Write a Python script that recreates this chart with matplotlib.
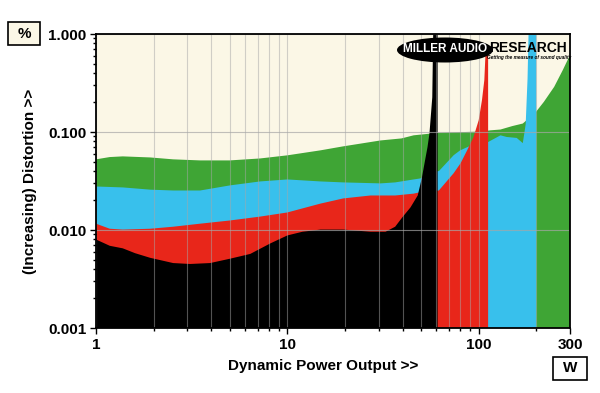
import numpy as np
import matplotlib
matplotlib.use("Agg")
import matplotlib.pyplot as plt
from matplotlib.patches import Ellipse, Rectangle
from matplotlib.ticker import FixedLocator, NullFormatter

plt.rcParams["font.family"] = ["Liberation Sans", "DejaVu Sans"]

# distortion (%) vs dynamic power (W), one trace per load
green_w = [1.0, 1.18, 1.38, 1.92, 2.53, 3.5, 5.0, 7.2, 10.0, 14.9, 19.6, 30.7,
           39.5, 45.7, 61.0, 71.0, 102.0, 115.0, 130.0, 150.0, 170.0, 199.0,
           219.0, 248.0, 275.0, 300.0]
green_pct = [0.0526, 0.0555, 0.0564, 0.055, 0.0526, 0.0513, 0.0513, 0.0537,
             0.0578, 0.065, 0.0714, 0.082, 0.086, 0.0925, 0.098, 0.099, 0.101,
             0.104, 0.106, 0.115, 0.122, 0.16, 0.203, 0.289, 0.428, 0.61]

blue_w = [1.0, 1.38, 1.92, 2.53, 3.5, 5.0, 7.2, 10.0, 14.9, 19.6, 30.7, 36.6,
          45.7, 49.6, 55.0, 62.0, 74.0, 80.0, 90.0, 112.0, 130.0, 140.0, 158.0,
          170.0, 176.0, 180.0, 183.0, 200.0]
blue_pct = [0.0278, 0.0272, 0.0258, 0.0253, 0.0253, 0.0285, 0.0313, 0.0328,
            0.0313, 0.0306, 0.0299, 0.0306, 0.0328, 0.0336, 0.038, 0.040,
            0.058, 0.065, 0.072, 0.079, 0.0925, 0.089, 0.087, 0.077, 0.12,
            0.35, 1.5, 1.5]

red_w = [1.0, 1.18, 1.38, 1.92, 2.53, 3.5, 5.0, 7.2, 10.0, 14.9, 19.6, 27.2,
         36.6, 45.7, 48.0, 55.0, 61.9, 74.0, 80.4, 87.0, 94.0, 100.0, 104.0,
         107.0, 108.5, 112.0]
red_pct = [0.0116, 0.0103, 0.0101, 0.0103, 0.0108, 0.0116, 0.0125, 0.0137,
           0.0151, 0.0186, 0.021, 0.0225, 0.0225, 0.0235, 0.024, 0.025, 0.0253,
           0.038, 0.048, 0.065, 0.089, 0.132, 0.211, 0.338, 0.62, 0.62]

black_w = [1.0, 1.18, 1.38, 1.6, 1.92, 2.53, 3.1, 3.95, 5.03, 6.4, 8.15, 10.0,
           12.0, 14.9, 19.6, 27.2, 32.6, 36.6, 39.8, 44.0, 48.0, 50.4, 52.4,
           54.0, 55.3, 57.2, 58.0, 61.0]
black_pct = [0.0080, 0.0069, 0.0065, 0.0058, 0.0052, 0.0046, 0.0045, 0.0046,
             0.0051, 0.0057, 0.0073, 0.0088, 0.0096, 0.0101, 0.0101, 0.0096,
             0.0096, 0.0108, 0.0134, 0.017, 0.0225, 0.0336, 0.051, 0.07, 0.097,
             0.226, 1.5, 1.5]

x_major = [1, 10, 100, 300]
x_major_labels = ["1", "10", "100", "300"]
y_major = [0.001, 0.01, 0.1, 1.0]
y_major_labels = ["0.001", "0.010", "0.100", "1.000"]

fig = plt.figure(figsize=(6, 3.93), dpi=100)
ax = fig.add_axes([96/600, 1-328/393, 474/600, 294/393])
ax.set_facecolor("#fbf7e6")
ax.set_xscale("log")
ax.set_yscale("log")
ax.set_xlim(1, 300)
ax.set_ylim(0.001, 1.0)

for w, p, c, z in [(green_w, green_pct, "#3fa535", 1.0),
                   (blue_w, blue_pct, "#38c0ec", 1.1),
                   (red_w, red_pct, "#e8261a", 1.2),
                   (black_w, black_pct, "#000000", 1.3)]:
    ax.fill_between(w, p, 1e-5, color=c, linewidth=0, zorder=z)

x_minor = [v * d for d in (1, 10) for v in range(2, 10)] + [200]
y_minor = [v * d for d in (0.001, 0.01, 0.1) for v in range(2, 10)]
ax.xaxis.set_major_locator(FixedLocator(x_major))
ax.xaxis.set_minor_locator(FixedLocator(x_minor))
ax.yaxis.set_major_locator(FixedLocator(y_major))
ax.yaxis.set_minor_locator(FixedLocator(y_minor))
ax.set_xticklabels(x_major_labels, fontsize=11, fontweight="bold")
ax.set_yticklabels(y_major_labels, fontsize=11, fontweight="bold")
ax.xaxis.set_minor_formatter(NullFormatter())
ax.yaxis.set_minor_formatter(NullFormatter())
ax.tick_params(which="major", length=4, width=1, pad=3)
ax.tick_params(which="minor", length=2.5, width=1)

ax.set_axisbelow(False)
ax.grid(True, which="both", axis="x", color="#a7a7a7", alpha=0.5, lw=0.8)
ax.grid(True, which="major", axis="y", color="#a7a7a7", alpha=0.7, lw=0.8)
for s in ax.spines.values():
    s.set_linewidth(1.3)
    s.set_zorder(5)

ax.set_ylabel("(Increasing) Distortion >>", fontsize=11, fontweight="bold",
              labelpad=8)
fig.text(323/600, 1-366/393, "Dynamic Power Output >>", fontsize=11,
         fontweight="bold", ha="center", va="center")

# unit boxes
fig.add_artist(Rectangle((8/600, 1-45/393), 32/600, 23/393, transform=fig.transFigure,
                         facecolor="#fbf7e6", edgecolor="black", lw=1.2))
fig.text(24/600, 1-33.5/393, "%", fontsize=11, fontweight="bold",
         ha="center", va="center")
fig.add_artist(Rectangle((553/600, 1-380/393), 34/600, 23/393, transform=fig.transFigure,
                         facecolor="white", edgecolor="black", lw=1.2))
fig.text(570/600, 1-368.5/393, "W", fontsize=11, fontweight="bold",
         ha="center", va="center")

# logo
fig.add_artist(Ellipse((445/600, 1-50/393), 96/600, 25/393,
                       transform=fig.transFigure, facecolor="black",
                       edgecolor="none", zorder=10))
fig.text(445/600, 1-49/393, "MILLER AUDIO", color="white", fontsize=8.5,
         fontweight="bold", ha="center", va="center", zorder=11)
fig.text(528/600, 1-48/393, "RESEARCH", color="black", fontsize=10,
         fontweight="bold", ha="center", va="center", zorder=11)
fig.text(529/600, 1-58/393, "Getting the measure of sound quality",
         color="black", fontsize=3.4, fontweight="bold", style="italic",
         ha="center", va="center", zorder=11)

fig.savefig("out.png", dpi=100)
